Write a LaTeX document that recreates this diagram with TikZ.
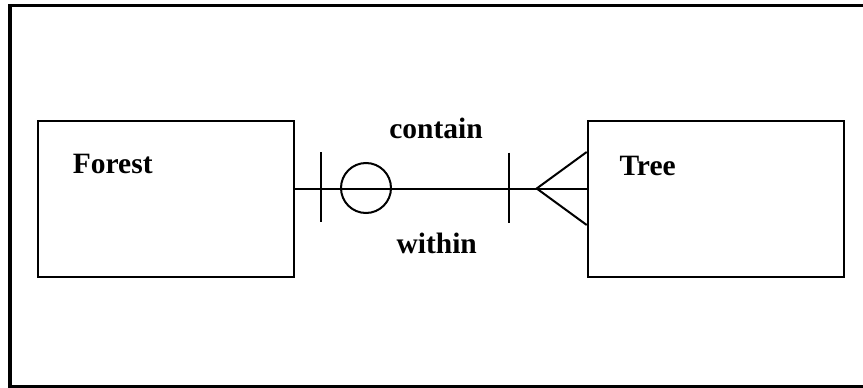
\documentclass[tikz,border=0pt]{standalone}
\usepackage{fontspec}
\setmainfont{Liberation Serif}
\begin{document}
\begin{tikzpicture}[x=1pt,y=-1pt,
  entity/.style={draw,line width=2pt,minimum width=256pt,minimum height=156pt,inner sep=0pt,anchor=north west},
  lbl/.style={font=\fontsize{29.5}{31}\selectfont\bfseries,inner sep=0pt,anchor=base west},
  rel/.style={line width=2pt},
  frame/.style={line width=3.5pt}]
\useasboundingbox (0,0) rectangle (863,388);
% outer frame (no right edge)
\draw[frame] (863,5.5) -- (10,5.5) -- (10,386.5) -- (863,386.5);
% entities
\node[entity] (forest) at (36.7,120) {};
\node[entity] (tree) at (586.7,120) {};
\node[lbl] (forestlbl) at (72.7,173) {Forest};
\node[lbl] (treelbl) at (619.3,175.7) {Tree};
% relationship line
\coordinate (fe) at (forest.east|-0,188.5);
\coordinate (te) at (tree.west|-0,188.5);
\draw[rel] (fe) -- (te);
% one bar and optional circle on Forest side
\draw[rel] (320.7,152) -- (320.7,222);
\node[draw,circle,line width=2pt,minimum size=50pt,inner sep=0pt] (opt) at (366,188) {};
% bar near Tree side
\draw[rel] (508.7,152.5) -- (508.7,222.5);
% crow's foot
\coordinate (apex) at (536.7,188.5);
\draw[rel] (tree.west|-0,152) -- (apex) -- (tree.west|-0,225);
% labels
\node[lbl,anchor=base] (contain) at (436,138.3) {contain};
\node[lbl,anchor=base] (within) at (436.7,253.3) {within};
\end{tikzpicture}
\end{document}
